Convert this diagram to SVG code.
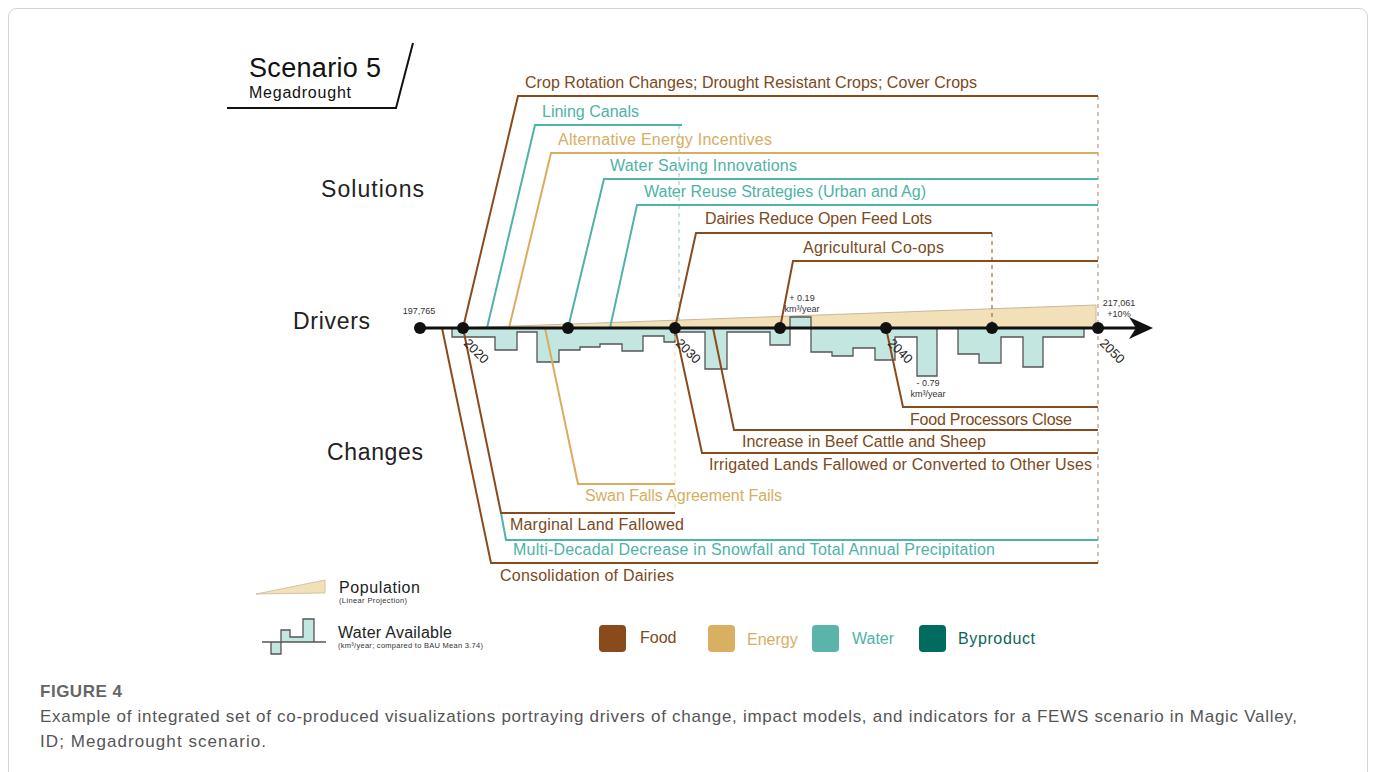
<svg xmlns="http://www.w3.org/2000/svg" width="1375" height="772" viewBox="0 0 1375 772">
<style>
text{font-family:"Liberation Sans","Open Sans",Arial,sans-serif}
.f{fill:none;stroke:#8a4b1c;stroke-width:2}
.w{fill:none;stroke:#4fb3a8;stroke-width:2}
.e{fill:none;stroke:#d9ad5f;stroke-width:2}
.tf{fill:#7b4a22;font-size:16px}
.tw{fill:#4db3a6;font-size:16px}
.te{fill:#d6ae62;font-size:16px}
.lab{fill:#222;font-size:23px}
.dot{fill:#111}
.yr{fill:#222;font-size:13px}
.sm{fill:#333;font-size:9px}
.dash{fill:none;stroke-width:1.2;stroke-dasharray:4 4}
.cap{fill:#555;font-size:17px}
</style>
<rect x="8.5" y="8.5" width="1359" height="800" rx="8" fill="#fff" stroke="#d4d4d4"/>

<g id="title">
<text x="249" y="77" style="font-size:27px;fill:#111" textLength="132">Scenario 5</text>
<text x="249" y="98" style="font-size:16px;fill:#111" textLength="102">Megadrought</text>
<polyline points="227,108 396,108 413,43" fill="none" stroke="#111" stroke-width="2"/>
</g>

<g id="row-labels">
<text class="lab" x="321" y="197" textLength="103">Solutions</text>
<text class="lab" x="293" y="329" textLength="77">Drivers</text>
<text class="lab" x="327" y="460" textLength="96">Changes</text>
</g>

<g id="population">
<polygon points="460,328 1096,305 1096,328" fill="#f2e0b9" stroke="#c9b89c" stroke-width="1"/>
</g>

<g id="water-available">
<path d="M452,328 V337 H495 V350 H517 V332 H537 V362 H559 V350 H580 V347 H600 V344 H622 V351 H643 V336 H664 V342 H675 V332 H705 V369 H727 V332 H770 V345 H790 V317 H811 V352 H832 V356 H853 V348 H875 V360 H895 V337 H917 V376 H937 V328 H958 V354 H979 V363 H1001 V337 H1023 V367 H1043 V337 H1084 V328 Z" fill="#c4e6e0" stroke="#555" stroke-width="1.3"/>
</g>

<g id="connectors">
<line class="dash" x1="1098" y1="96" x2="1098" y2="563" stroke="#b89a82"/>
<line class="dash" x1="992" y1="233" x2="992" y2="328" stroke="#a0703f"/>
<line class="dash" x1="679" y1="125" x2="679" y2="328" stroke="#9fd3cc"/>
<line class="dash" x1="675" y1="328" x2="675" y2="512" stroke="#efdcb5"/>
<!-- solutions -->
<polyline class="f" points="463,328 518,96 1098,96"/>
<polyline class="w" points="487,328 535,125 682,125"/>
<polyline class="e" points="509,328 551,153 1098,153"/>
<polyline class="w" points="568,328 604,179 1098,179"/>
<polyline class="w" points="610,328 637,205 1098,205"/>
<polyline class="f" points="675,328 696,233 992,233"/>
<polyline class="f" points="780,328 793,261 1098,261"/>
<!-- changes -->
<polyline class="f" points="442,328 491,563 1098,563"/>
<polyline class="w" points="501,513 506,540 1098,540"/>
<polyline class="f" points="463,328 501,513 675,513"/>
<polyline class="e" points="545,328 578,484 675,484"/>
<polyline class="f" points="675,328 702,453 1098,453"/>
<polyline class="f" points="713,328 734,430 1098,430"/>
<polyline class="f" points="886,328 903,407 1098,407"/>
</g>

<g id="axis">
<line x1="420" y1="328" x2="1138" y2="328" stroke="#111" stroke-width="3"/>
<polygon points="1153,328 1129,317 1136,328 1129,339" fill="#111"/>
<circle class="dot" cx="420" cy="328" r="6"/>
<circle class="dot" cx="463" cy="328" r="6"/>
<circle class="dot" cx="568" cy="328" r="6"/>
<circle class="dot" cx="675" cy="328" r="6"/>
<circle class="dot" cx="780" cy="328" r="6"/>
<circle class="dot" cx="886" cy="328" r="6"/>
<circle class="dot" cx="992" cy="328" r="6"/>
<circle class="dot" cx="1098" cy="328" r="6"/>
<text class="yr" transform="translate(463,344) rotate(45)">2020</text>
<text class="yr" transform="translate(675,344) rotate(45)">2030</text>
<text class="yr" transform="translate(887,344) rotate(45)">2040</text>
<text class="yr" transform="translate(1099,344) rotate(45)">2050</text>
<text class="sm" x="419" y="314" text-anchor="middle">197,765</text>
<text class="sm" x="1119" y="306" text-anchor="middle">217,061</text>
<text class="sm" x="1119" y="317" text-anchor="middle">+10%</text>
<text class="sm" x="802" y="301" text-anchor="middle">+ 0.19</text>
<text class="sm" x="802" y="312" text-anchor="middle">km³/year</text>
<text class="sm" x="928" y="386" text-anchor="middle">- 0.79</text>
<text class="sm" x="928" y="397" text-anchor="middle">km³/year</text>
</g>

<g id="solution-labels">
<text class="tf" x="525" y="88" textLength="452">Crop Rotation Changes; Drought Resistant Crops; Cover Crops</text>
<text class="tw" x="542" y="117" textLength="97">Lining Canals</text>
<text class="te" x="558" y="145" textLength="214">Alternative Energy Incentives</text>
<text class="tw" x="610" y="171" textLength="187">Water Saving Innovations</text>
<text class="tw" x="644" y="197" textLength="282">Water Reuse Strategies (Urban and Ag)</text>
<text class="tf" x="705" y="224" textLength="227">Dairies Reduce Open Feed Lots</text>
<text class="tf" x="803" y="253" textLength="141">Agricultural Co-ops</text>
</g>

<g id="change-labels">
<text class="tf" x="910" y="425" textLength="162">Food Processors Close</text>
<text class="tf" x="742" y="447" textLength="244">Increase in Beef Cattle and Sheep</text>
<text class="tf" x="709" y="470" textLength="383">Irrigated Lands Fallowed or Converted to Other Uses</text>
<text class="te" x="585" y="501" textLength="197">Swan Falls Agreement Fails</text>
<text class="tf" x="510" y="530" textLength="174">Marginal Land Fallowed</text>
<text class="tw" x="513" y="555" textLength="482">Multi-Decadal Decrease in Snowfall and Total Annual Precipitation</text>
<text class="tf" x="500" y="581" textLength="174">Consolidation of Dairies</text>
</g>

<g id="legend-population">
<polygon points="256,594 325,580 325,593" fill="#f2e0b9" stroke="#c9b89c" stroke-width="0.8"/>
<text x="339" y="593" style="font-size:16px;fill:#222" textLength="81">Population</text>
<text x="339" y="603" style="font-size:7.5px;fill:#333" textLength="68">(Linear Projection)</text>
</g>

<g id="legend-water">
<path d="M271,642 V654 H281 V630 H290 V637 H303 V619 H314 V642" fill="#c4e6e0" stroke="#555" stroke-width="1.3"/>
<line x1="262" y1="642" x2="326" y2="642" stroke="#555" stroke-width="1.3"/>
<text x="338" y="638" style="font-size:16px;fill:#222" textLength="114">Water Available</text>
<text x="338" y="648" style="font-size:7.5px;fill:#333" textLength="145">(km³/year; compared to BAU Mean 3.74)</text>
</g>

<g id="legend-colors">
<rect x="599" y="625" width="27" height="27" rx="4" fill="#8a4b1c"/>
<text x="640" y="643" style="font-size:16px;fill:#7b4a22">Food</text>
<rect x="708" y="625" width="27" height="27" rx="4" fill="#d9b061"/>
<text x="747" y="645" style="font-size:16px;fill:#d6ae62">Energy</text>
<rect x="812" y="625" width="27" height="27" rx="4" fill="#5ab4aa"/>
<text x="852" y="644" style="font-size:16px;fill:#4db3a6">Water</text>
<rect x="919" y="625" width="27" height="27" rx="4" fill="#006b5e"/>
<text x="958" y="644" style="font-size:16px;fill:#0b6659" textLength="77">Byproduct</text>
</g>

<g id="caption">
<text class="cap" x="40" y="697" style="font-weight:bold;fill:#666" textLength="82">FIGURE 4</text>
<text class="cap" x="40" y="722" textLength="1257">Example of integrated set of co-produced visualizations portraying drivers of change, impact models, and indicators for a FEWS scenario in Magic Valley,</text>
<text class="cap" x="40" y="747" textLength="226">ID; Megadrought scenario.</text>
</g>
</svg>
